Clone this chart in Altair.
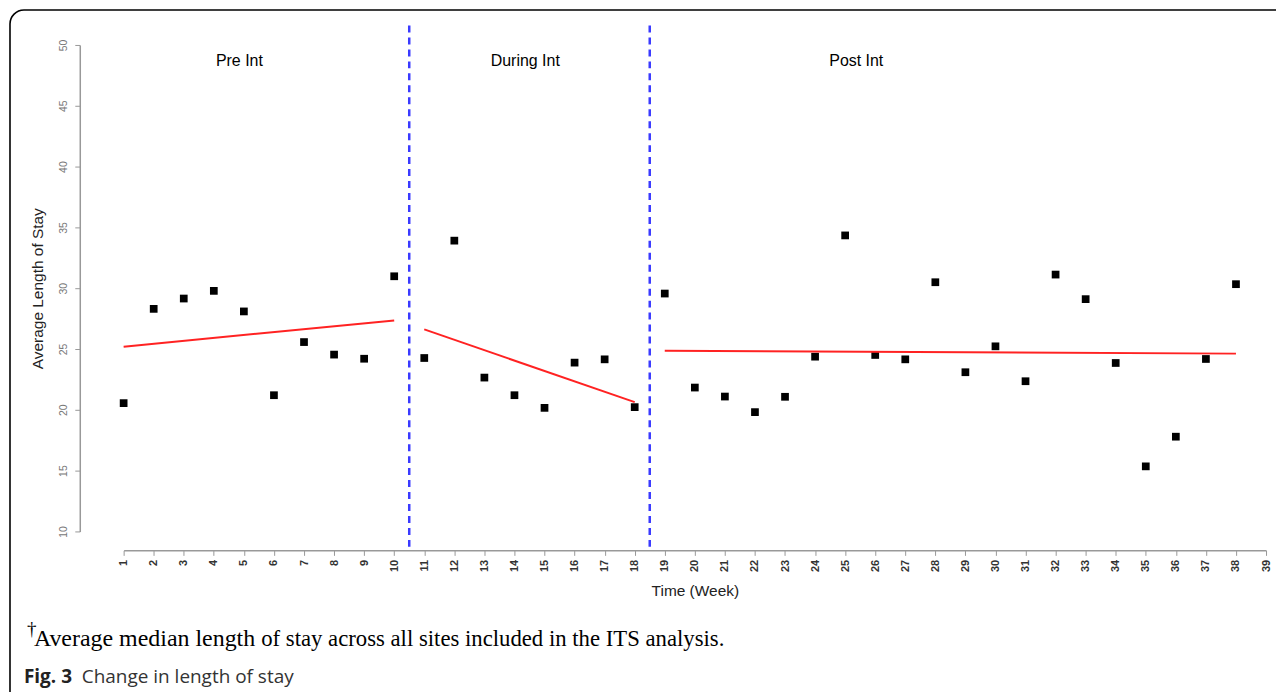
import altair as alt
import pandas as pd

weeks = list(range(1, 39))
los = [20.55, 28.30, 29.15, 29.78, 28.09, 21.20, 25.57, 24.54, 24.20, 30.98,
       24.26, 33.91, 22.65, 21.20, 20.16, 23.88, 24.15, 20.22,
       29.56, 21.83, 21.09, 19.81, 21.07, 24.37, 34.34, 24.51, 24.15, 30.49,
       23.09, 25.22, 22.35, 31.12, 29.10, 23.85, 15.35, 17.79, 24.18, 30.33]

trend_x = [1, 10, 11, 18, 19, 38]
trend_y = [25.19, 27.35, 26.61, 20.63, 24.86, 24.62]
trend_seg = ["Pre", "Pre", "During", "During", "Post", "Post"]

breaks = [10.5, 18.5]
phase_labels = ["Pre Int", "During Int", "Post Int"]
phase_x = [4.85, 14.36, 25.37]
phase_y = [48.69, 48.69, 48.69]

x_ticks = list(range(1, 40))
y_ticks = [10, 15, 20, 25, 30, 35, 40, 45, 50]

footnote_a = "Average median length"
footnote_b = "of stay across all sites included in the ITS analysis."
caption_bold = "Fig. 3"
caption_rest = "Change in length of stay"

pts = pd.DataFrame({"week": weeks, "los": los})
trend = pd.DataFrame({"week": trend_x, "los": trend_y, "seg": trend_seg})
brk = pd.DataFrame({"x": breaks, "y1": [51.6, 51.6], "y2": [8.44, 8.44]})
lab = pd.DataFrame({"t": phase_labels, "x": phase_x, "y": phase_y})

xscale = alt.Scale(domain=[1, 39], nice=False, zero=False)
yscale = alt.Scale(domain=[10, 50], nice=False, zero=False)

xaxis = alt.Axis(values=x_ticks, labelAngle=-90, offset=19, grid=False,
                 labelOverlap=False, labelFlush=False, labelBound=False,
                 tickSize=5, labelPadding=4, labelFontSize=11, labelColor="#333",
                 labelFont="Liberation Sans", labelFontWeight="bold",
                 domainColor="#999", tickColor="#999", domainWidth=1.5,
                 title="Time (Week)", titleFont="Liberation Sans", titleFontSize=15.5,
                 titleFontWeight="normal", titleColor="#222", titlePadding=12)
yaxis = alt.Axis(values=y_ticks, labelAngle=-90, offset=44, grid=False,
                 labelOverlap=False, labelFlush=False,
                 tickSize=5, labelPadding=6, labelFontSize=10.5, labelColor="#777",
                 labelFont="Liberation Sans", labelBaseline="bottom", labelAlign="center",
                 domainColor="#999", tickColor="#999", domainWidth=1.5,
                 title="Average Length of Stay", titleFont="Liberation Sans",
                 titleFontSize=15.5, titleFontWeight="normal", titleColor="#222",
                 titlePadding=13)

frame = alt.Chart(pd.DataFrame({"a": [0]})).mark_rect(
    filled=False, stroke="black", strokeWidth=1.6, cornerRadius=14
).encode(x=alt.value(-114), x2=alt.value(1200), y=alt.value(-35), y2=alt.value(700))

points = alt.Chart(pts).mark_point(shape="square", filled=True, color="black",
                                   size=60, opacity=1).encode(
    x=alt.X("week:Q", scale=xscale, axis=xaxis),
    y=alt.Y("los:Q", scale=yscale, axis=yaxis),
)

lines = alt.Chart(trend).mark_line(color="#ff2222", strokeWidth=2).encode(
    x=alt.X("week:Q", scale=xscale, axis=xaxis),
    y=alt.Y("los:Q", scale=yscale, axis=yaxis),
    detail="seg:N",
)

rules = alt.Chart(brk).mark_rule(color="#3a3aff", strokeWidth=2.5,
                                 strokeDash=[7, 5]).encode(
    x=alt.X("x:Q", scale=xscale, axis=xaxis),
    y=alt.Y("y1:Q", scale=yscale, axis=yaxis),
    y2="y2:Q",
)

labels = alt.Chart(lab).mark_text(font="Liberation Sans", fontSize=16,
                                  color="black", baseline="middle").encode(
    x=alt.X("x:Q", scale=xscale, axis=xaxis),
    y=alt.Y("y:Q", scale=yscale, axis=yaxis),
    text="t:N",
)

def txt(s, x, y, **kw):
    return alt.Chart(pd.DataFrame({"t": [s]})).mark_text(align="left",
                                                         baseline="alphabetic",
                                                         **kw).encode(
        x=alt.value(x), y=alt.value(y), text="t:N")

dagger = txt("†", -97, 592, font="Liberation Serif", fontSize=19, color="black")
fa = txt(footnote_a, -90, 603, font="Liberation Serif", fontSize=24, color="black")
fb = txt(footnote_b, 138, 603, font="Liberation Serif", fontSize=22.8, color="black")
cb = txt(caption_bold, -100, 640, font="Open Sans", fontSize=19, fontWeight="bold",
         color="#222")
cr = txt(caption_rest, -42, 640, font="Open Sans", fontSize=19, color="#333")

chart = alt.layer(frame, points, rules, lines, labels, dagger, fa, fb, cb, cr).properties(
    width=1146, height=488,
    autosize=alt.AutoSizeParams(type="none"),
    padding={"left": 116, "top": 36, "right": 10, "bottom": 160},
).configure(background="white").configure_view(strokeWidth=0, stroke=None
).configure_axis(labelOverlap=False)

chart.save("out.html", embed_options={"renderer": "svg", "actions": False})
